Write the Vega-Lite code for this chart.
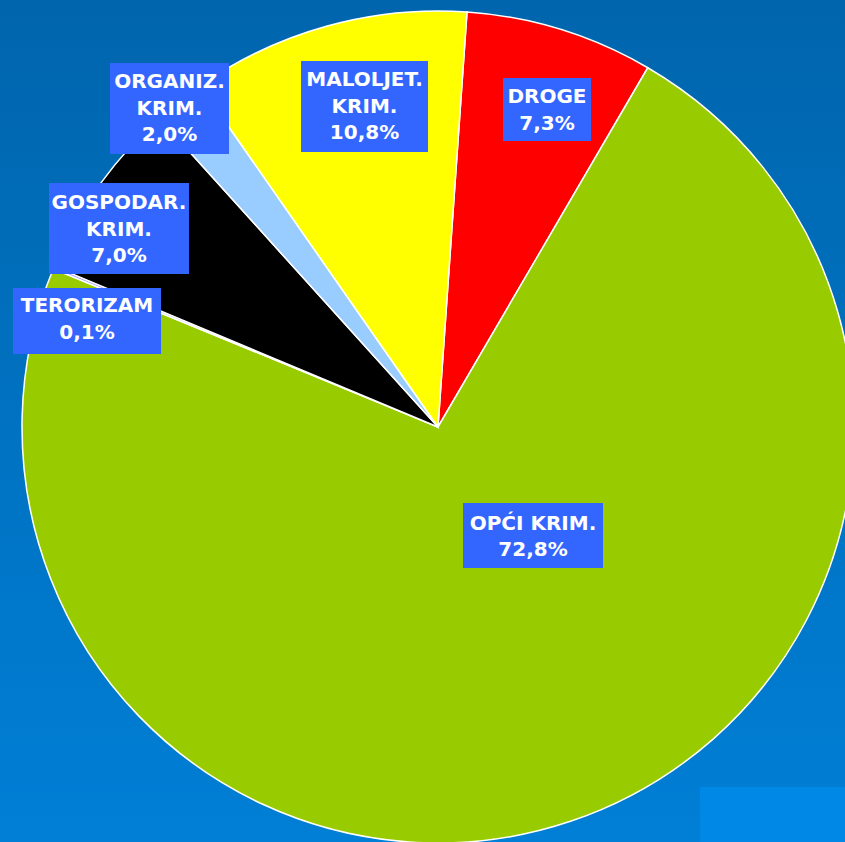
{
  "$schema": "https://vega.github.io/schema/vega-lite/v6.json",
  "width": 845,
  "height": 842,
  "autosize": "none",
  "padding": 0,
  "background": "#0070c0",
  "config": {"view": {"stroke": null}},
  "datasets": {
    "slices": [
      {"kategorija": "DROGE", "udio": 7.3, "red": 1},
      {"kategorija": "OPĆI KRIM.", "udio": 72.8, "red": 2},
      {"kategorija": "TERORIZAM", "udio": 0.1, "red": 3},
      {"kategorija": "GOSPODAR. KRIM.", "udio": 7.0, "red": 4},
      {"kategorija": "ORGANIZ. KRIM.", "udio": 2.0, "red": 5},
      {"kategorija": "MALOLJET. KRIM.", "udio": 10.8, "red": 6}
    ],
    "labels": [
      {"kategorija": "DROGE", "tekst": "DROGE\n7,3%", "x1": 65, "x2": 153, "y1": 349, "y2": 286, "tx": 109, "ty": 330},
      {"kategorija": "MALOLJET. KRIM.", "tekst": "MALOLJET.\nKRIM.\n10,8%", "x1": -137, "x2": -10, "y1": 366, "y2": 275, "tx": -73.5, "ty": 347},
      {"kategorija": "ORGANIZ. KRIM.", "tekst": "ORGANIZ.\nKRIM.\n2,0%", "x1": -328, "x2": -209, "y1": 364, "y2": 273, "tx": -268.5, "ty": 345},
      {"kategorija": "GOSPODAR. KRIM.", "tekst": "GOSPODAR.\nKRIM.\n7,0%", "x1": -389, "x2": -249, "y1": 244, "y2": 153, "tx": -319, "ty": 224},
      {"kategorija": "TERORIZAM", "tekst": "TERORIZAM\n0,1%", "x1": -425, "x2": -277, "y1": 139, "y2": 73, "tx": -351, "ty": 121},
      {"kategorija": "OPĆI KRIM.", "tekst": "OPĆI KRIM.\n72,8%", "x1": 25, "x2": 165, "y1": -76, "y2": -141, "tx": 95, "ty": -96.5}
    ],
    "frame": [
      {"dio": "pozadina", "x1": -438, "x2": 407, "y1": 427, "y2": -415},
      {"dio": "ukras", "x1": 262, "x2": 407, "y1": -360, "y2": -415}
    ]
  },
  "layer": [
    {
      "data": {"name": "frame"},
      "transform": [{"filter": "datum.dio === 'pozadina'"}],
      "mark": {
        "type": "rect",
        "fill": {
          "gradient": "linear", "x1": 0, "y1": 0, "x2": 0, "y2": 1,
          "stops": [{"offset": 0, "color": "#0065ad"}, {"offset": 1, "color": "#007fd6"}]
        }
      },
      "encoding": {
        "x": {"field": "x1", "type": "quantitative", "scale": {"domain": [-438, 407], "nice": false, "zero": false}, "axis": null},
        "x2": {"field": "x2"},
        "y": {"field": "y1", "type": "quantitative", "scale": {"domain": [-415, 427], "nice": false, "zero": false}, "axis": null},
        "y2": {"field": "y2"}
      }
    },
    {
      "data": {"name": "frame"},
      "transform": [{"filter": "datum.dio === 'ukras'"}],
      "mark": {"type": "rect", "fill": "#0088e6"},
      "encoding": {
        "x": {"field": "x1", "type": "quantitative"},
        "x2": {"field": "x2"},
        "y": {"field": "y1", "type": "quantitative"},
        "y2": {"field": "y2"}
      }
    },
    {
      "data": {"name": "slices"},
      "mark": {"type": "arc", "outerRadius": 416, "stroke": "#ffffff", "strokeWidth": 1.5},
      "encoding": {
        "x": {"datum": 0, "type": "quantitative"},
        "y": {"datum": 0, "type": "quantitative"},
        "theta": {"field": "udio", "type": "quantitative", "stack": true, "scale": {"range": [0.06981, 6.35299]}},
        "order": {"field": "red", "type": "quantitative"},
        "color": {
          "field": "kategorija", "type": "nominal", "legend": null,
          "scale": {
            "domain": ["DROGE", "OPĆI KRIM.", "TERORIZAM", "GOSPODAR. KRIM.", "ORGANIZ. KRIM.", "MALOLJET. KRIM."],
            "range": ["#ff0000", "#99cc00", "#9999ff", "#000000", "#99ccff", "#ffff00"]
          }
        }
      }
    },
    {
      "data": {"name": "labels"},
      "mark": {"type": "rect", "fill": "#3366ff"},
      "encoding": {
        "x": {"field": "x1", "type": "quantitative"},
        "x2": {"field": "x2"},
        "y": {"field": "y1", "type": "quantitative"},
        "y2": {"field": "y2"}
      }
    },
    {
      "data": {"name": "labels"},
      "mark": {"type": "text", "font": "DejaVu Sans", "fontWeight": "bold", "fontSize": 20, "color": "#ffffff", "lineBreak": "\n", "lineHeight": 26.7, "align": "center", "baseline": "middle"},
      "encoding": {
        "x": {"field": "tx", "type": "quantitative"},
        "y": {"field": "ty", "type": "quantitative"},
        "text": {"field": "tekst"}
      }
    }
  ]
}
